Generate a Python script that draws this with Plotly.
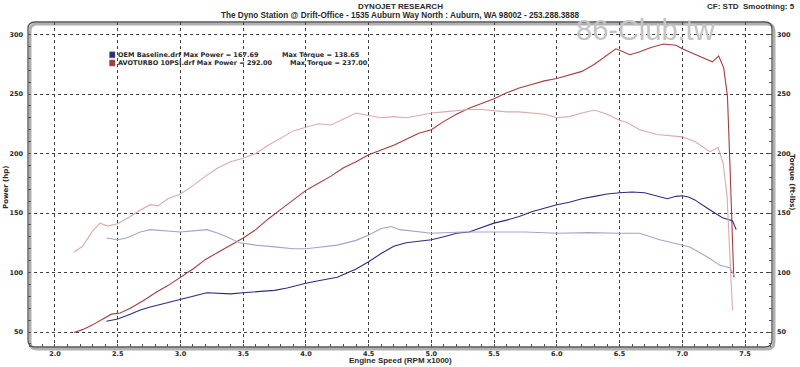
import plotly.graph_objects as go

# ---------------- data ----------------
avo_power_rpm = [2.15, 2.22, 2.3, 2.38, 2.45, 2.52, 2.6, 2.7, 2.8, 2.9, 3.0, 3.1, 3.2, 3.3, 3.4, 3.5,
                 3.6, 3.7, 3.8, 3.9, 4.0, 4.1, 4.2, 4.3, 4.4, 4.5, 4.6, 4.7, 4.8, 4.9, 5.0, 5.1,
                 5.2, 5.3, 5.4, 5.5, 5.6, 5.7, 5.8, 5.9, 6.0, 6.1, 6.2, 6.3, 6.4, 6.47, 6.52,
                 6.58, 6.65, 6.75, 6.85, 6.95, 7.0, 7.08, 7.15, 7.24, 7.29, 7.33, 7.36, 7.38,
                 7.40, 7.41]
avo_power_hp = [49.5, 52, 56, 61, 65, 66, 70, 76, 83, 89, 96, 103, 111, 117, 123, 129,
                136, 145, 153, 161, 169, 175, 181, 188, 193, 199, 203, 207, 212, 217, 220, 227,
                233, 238, 242, 246, 251, 255, 258, 261, 263, 266, 269, 275, 283, 288, 286,
                283, 285, 289, 292, 291, 288, 284, 281, 277, 282, 272, 248, 190,
                120, 96]

avo_torque_rpm = [2.15, 2.22, 2.3, 2.36, 2.42, 2.5, 2.6, 2.68, 2.76, 2.82, 2.9, 3.0, 3.1, 3.2,
                  3.3, 3.4, 3.5, 3.6, 3.7, 3.8, 3.9, 4.0, 4.1, 4.2, 4.3, 4.4, 4.5, 4.6, 4.7,
                  4.8, 4.9, 5.0, 5.1, 5.2, 5.3, 5.4, 5.5, 5.6, 5.7, 5.8, 5.9, 6.0, 6.1, 6.2,
                  6.3, 6.4, 6.5, 6.56, 6.66, 6.8, 7.0, 7.1, 7.22, 7.285, 7.325, 7.357, 7.38, 7.40]
avo_torque_ftlb = [117, 122, 135, 141.5, 139, 141, 147, 152.5, 157, 156, 162, 166, 173, 181,
                   188, 193, 196, 200, 207, 213, 219, 222, 225, 224, 229, 234, 232, 230, 231,
                   230, 232, 234, 235, 236, 237, 237, 236, 235, 235, 234, 233, 230, 231, 234,
                   236.5, 233, 228, 226, 220, 216, 214, 210, 201.5, 205, 192, 164, 108, 68]

oem_power_rpm = [2.41, 2.5, 2.6, 2.68, 2.76, 2.84, 2.92, 3.0, 3.1, 3.21, 3.3, 3.4, 3.5, 3.6,
                 3.75, 3.85, 4.0, 4.1, 4.25, 4.4, 4.5, 4.6, 4.7, 4.8, 4.9, 5.0, 5.1, 5.2, 5.3,
                 5.4, 5.5, 5.6, 5.7, 5.8, 5.9, 6.0, 6.1, 6.2, 6.3, 6.4, 6.5, 6.6, 6.7, 6.8,
                 6.88, 6.95, 7.0, 7.05, 7.1, 7.2, 7.32, 7.4, 7.43]
oem_power_hp = [59, 61, 65, 68.5, 71, 73, 75, 77, 80, 83, 82.5, 82, 83, 84,
                85, 87, 91, 93, 96, 103, 109, 116, 122, 125, 126, 127.5, 130, 133, 134,
                138, 141.5, 144, 147, 151, 154, 157, 159, 162, 164, 166, 167, 167.7, 167, 164,
                162, 164, 164.5, 163.5, 161, 154, 146, 143.5, 136]

oem_torque_rpm = [2.41, 2.5, 2.57, 2.68, 2.76, 2.9, 3.0, 3.1, 3.21, 3.3, 3.37, 3.47, 3.6, 3.75,
                  3.9, 4.0, 4.1, 4.25, 4.4, 4.5, 4.6, 4.68, 4.75, 4.9, 5.0, 5.25, 5.5, 5.75,
                  6.0, 6.25, 6.5, 6.66, 6.82, 6.93, 7.06, 7.2, 7.3, 7.38, 7.42]
oem_torque_ftlb = [129, 127.5, 129, 134, 136, 135, 134, 135, 136, 133, 130, 125, 123, 121.5,
                   120, 120, 121, 123, 127, 131.5, 137, 138.6, 136, 134, 133, 134, 134, 134,
                   133, 133.5, 133, 133, 127.5, 125, 121.5, 113, 106, 104, 96]

x_ticks = [2.0, 2.5, 3.0, 3.5, 4.0, 4.5, 5.0, 5.5, 6.0, 6.5, 7.0, 7.5]
y_ticks = [50, 100, 150, 200, 250, 300]

legend_rows = [
    ("OEM Baseline.drf", "167.69", "138.65"),
    ("AVOTURBO 10PSI.drf", "292.00", "237.00"),
]

# ---------------- styling ----------------
W, H = 800, 367
L, R, T, B = 28, 28, 22, 20
C_AVO_P = "#a53d3d"
C_AVO_T = "#dcaaaa"
C_OEM_P = "#2b2d80"
C_OEM_T = "#a3a3cf"
FONT = "Liberation Sans"
VFONT = "DejaVu Sans"
TXT = "#2a2a2a"


def px(x):
    return (x - L) / (W - L - R)


def py(y):
    return (H - B - y) / (H - T - B)


fig = go.Figure()
fig.add_trace(go.Scatter(x=avo_torque_rpm, y=avo_torque_ftlb, mode="lines", yaxis="y2",
                         line=dict(color=C_AVO_T, width=1.1), hoverinfo="skip"))
fig.add_trace(go.Scatter(x=oem_torque_rpm, y=oem_torque_ftlb, mode="lines", yaxis="y2",
                         line=dict(color=C_OEM_T, width=1.1), hoverinfo="skip"))
fig.add_trace(go.Scatter(x=avo_power_rpm, y=avo_power_hp, mode="lines",
                         line=dict(color=C_AVO_P, width=1.1), hoverinfo="skip"))
fig.add_trace(go.Scatter(x=oem_power_rpm, y=oem_power_hp, mode="lines",
                         line=dict(color=C_OEM_P, width=1.1), hoverinfo="skip"))

tickfont = dict(family=VFONT, size=6.5, color=TXT, weight="bold")
yr = [37.4, 310.5]
fig.update_layout(
    width=W, height=H, autosize=False,
    margin=dict(l=L, r=R, t=T, b=B, pad=0),
    paper_bgcolor="white", plot_bgcolor="white",
    showlegend=False,
    xaxis=dict(range=[1.785, 7.715], tickvals=x_ticks, tickformat=".1f", automargin=False,
               showgrid=True, gridcolor="#404040", griddash="dot", gridwidth=1,
               zeroline=False, showline=False, ticks="inside", ticklen=3, tickcolor="#555",
               tickfont=tickfont, ticklabelstandoff=1,
               minor=dict(dtick=0.1, ticks="inside", ticklen=3, tickcolor="#555", showgrid=False)),
    yaxis=dict(range=yr, tickvals=y_ticks, showgrid=True, gridcolor="#404040", griddash="dot",
               gridwidth=1, zeroline=False, showline=False, ticks="inside", ticklen=3,
               tickcolor="#555", tickfont=tickfont, ticklabelstandoff=4, automargin=False,
               minor=dict(dtick=10, ticks="inside", ticklen=3, tickcolor="#555", showgrid=False)),
    yaxis2=dict(range=yr, tickvals=y_ticks, overlaying="y", side="right", showgrid=False,
                zeroline=False, showline=False, ticks="inside", ticklen=3, tickcolor="#555",
                tickfont=tickfont, ticklabelstandoff=4, automargin=False,
                minor=dict(dtick=10, ticks="inside", ticklen=3, tickcolor="#555")),
)

# rounded frame with a soft shadow
rx, ry = 7 / (W - L - R), 7 / (H - T - B)


def rounded(x0, y0, x1, y1):
    return (f"M {x0+rx},{y1} L {x1-rx},{y1} Q {x1},{y1} {x1},{y1-ry} L {x1},{y0+ry} "
            f"Q {x1},{y0} {x1-rx},{y0} L {x0+rx},{y0} Q {x0},{y0} {x0},{y0+ry} "
            f"L {x0},{y1-ry} Q {x0},{y1} {x0+rx},{y1} Z")


dx, dy = 2 / (W - L - R), 2 / (H - T - B)
fig.add_shape(type="path", xref="paper", yref="paper", path=rounded(dx, -dy, 1 + dx, 1 - dy),
              line=dict(color="#b0b0b0", width=3), layer="below")
fig.add_shape(type="path", xref="paper", yref="paper", path=rounded(0, 0, 1, 1),
              line=dict(color="#555555", width=1.3), layer="above")

ann = []
ann.append(dict(text="<b>DYNOJET RESEARCH</b>", x=px(400), y=py(6), xanchor="center", yanchor="middle",
                font=dict(family=FONT, size=8, color=TXT)))
ann.append(dict(text="<b>The Dyno Station @ Drift-Office - 1535 Auburn Way North : Auburn, WA 98002 - 253.288.3888</b>",
                x=px(400), y=py(16), xanchor="center", yanchor="middle",
                font=dict(family=FONT, size=8.2, color=TXT)))
ann.append(dict(text="<b>CF: STD  Smoothing: 5</b>", x=px(797), y=py(6), xanchor="right", yanchor="middle",
                font=dict(family=FONT, size=8, color=TXT)))
ann.append(dict(text="86-Club.tw", x=px(646), y=py(30), xanchor="center", yanchor="middle",
                font=dict(family="Liberation Sans", size=29, color="#c4c4c4")))
ann.append(dict(text="<b>Power (hp)</b>", x=px(6), y=py(188), textangle=-90, xanchor="center",
                yanchor="middle", font=dict(family=VFONT, size=7, color=TXT)))
ann.append(dict(text="<b>Torque (ft-lbs)</b>", x=px(792), y=py(182), textangle=90, xanchor="center",
                yanchor="middle", font=dict(family=VFONT, size=7, color=TXT)))
ann.append(dict(text="<b>Engine Speed (RPM x1000)</b>", x=px(400), y=py(360.5), xanchor="center",
                yanchor="middle", font=dict(family=FONT, size=8, color=TXT)))

row_y = [54.8, 63.0]
sq_col = [C_OEM_P, C_AVO_P]
torque_x = [280, 288]
for i, (name, mp, mt) in enumerate(legend_rows):
    ann.append(dict(text=f"<b>{name} Max Power = {mp}</b>", x=px(116), y=py(row_y[i]), xanchor="left",
                    yanchor="middle", font=dict(family=VFONT, size=6.5, color=TXT)))
    ann.append(dict(text=f"<b>Max Torque = {mt}</b>", x=px(torque_x[i]), y=py(row_y[i]), xanchor="left",
                    yanchor="middle", font=dict(family=VFONT, size=6.5, color=TXT)))
    fig.add_shape(type="rect", xref="paper", yref="paper",
                  x0=px(109.5), x1=px(115), y0=py(row_y[i] + 3), y1=py(row_y[i] - 3),
                  fillcolor=sq_col[i], line=dict(color="#777", width=0.5))

for a in ann:
    a.update(xref="paper", yref="paper", showarrow=False)
fig.update_layout(annotations=ann)

fig.write_html("out.html", config={"displayModeBar": False},
               post_script="document.body.style.margin='0px';"
                           "document.documentElement.style.overflow='hidden';")
